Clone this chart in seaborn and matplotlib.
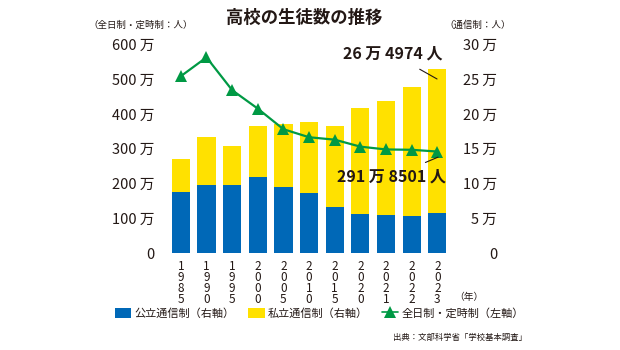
import numpy as np
import pandas as pd
import matplotlib.pyplot as plt
import seaborn as sns
from matplotlib.patches import Patch
from matplotlib.lines import Line2D

# 値は図から読み取り（単位：万人）
years = ["1985", "1990", "1995", "2000", "2005", "2010", "2015", "2020", "2021", "2022", "2023"]
public_tsushin = [8.8, 9.8, 9.8, 10.9, 9.5, 8.6, 6.6, 5.6, 5.5, 5.3, 5.8]
private_tsushin = [4.7, 6.9, 5.6, 7.3, 9.0, 10.2, 11.6, 15.2, 16.4, 18.5, 20.7]
zennichi_teiji = [508, 562, 468, 415, 356, 333, 326, 306, 298, 297, 292]
left_ticks = ["0", "100 万", "200 万", "300 万", "400 万", "500 万", "600 万"]
right_ticks = ["0", "5 万", "10 万", "15 万", "20 万", "25 万", "30 万"]

BLUE = "#0068b7"
YELLOW = "#ffe100"
GREEN = "#009944"
INK = "#231815"

sns.set_theme(style="white")
plt.rcParams["font.family"] = ["Noto Sans CJK JP", "DejaVu Sans"]
plt.rcParams["text.color"] = INK

df = pd.DataFrame({
    "年": years,
    "公立": public_tsushin,
    "私立": private_tsushin,
})
df["合計"] = df["公立"] + df["私立"]

fig = plt.figure(figsize=(6.2, 3.5), dpi=100)
ax = fig.add_axes([0.271, 0.276, 0.455, 0.598])
ax2 = ax.twinx()  # 折れ線は棒の上に描く

# 積み上げ棒（通信制・右軸）
sns.barplot(data=df, x="年", y="合計", color=YELLOW, width=0.71,
            saturation=1, ax=ax, linewidth=0)
sns.barplot(data=df, x="年", y="公立", color=BLUE, width=0.71,
            saturation=1, ax=ax, linewidth=0)
ax.set_ylim(0, 30)
ax.set_xlim(-0.5, len(years) - 0.5)
ax.yaxis.tick_right()
ax.set_yticks(np.arange(0, 31, 5))
ax.set_yticklabels(right_ticks, fontsize=10.5, color=INK)
for lab in ax.get_yticklabels():
    lab.set_horizontalalignment("right")
ax.tick_params(axis="y", length=0, pad=34)
ax.set_xticks(range(len(years)))
ax.set_xticklabels(["\n".join(y) for y in years], fontsize=8.5,
                   linespacing=0.78, color=INK, va="top")
ax.tick_params(axis="x", length=0, pad=5)
ax.set_xlabel("")
ax.set_ylabel("")
sns.despine(ax=ax, left=True, bottom=True)

# 折れ線（全日制・定時制・左軸）
sns.lineplot(x=np.arange(len(years)), y=zennichi_teiji, ax=ax2, color=GREEN,
             linewidth=1.6, marker="^", markersize=9, markeredgewidth=0)
ax2.set_ylim(0, 600)
ax2.set_xlim(-0.5, len(years) - 0.5)
ax2.yaxis.tick_left()
ax2.set_yticks(np.arange(0, 601, 100))
ax2.set_yticklabels(left_ticks, fontsize=10.5, color=INK)
ax2.tick_params(axis="y", length=0, pad=10)
ax2.set_ylabel("")
sns.despine(ax=ax2, left=True, right=True, bottom=True, top=True)

ax2.annotate("26 万 4974 人", xy=(9.99, 500), xytext=(8.25, 572),
             ha="center", va="center", fontsize=11.5, fontweight="bold",
             arrowprops=dict(arrowstyle="-", color=INK, lw=0.8,
                             shrinkA=6, shrinkB=0))
ax2.annotate("291 万 8501 人", xy=(10.03, 276), xytext=(8.2, 219),
             ha="center", va="center", fontsize=11.5, fontweight="bold",
             arrowprops=dict(arrowstyle="-", color=INK, lw=0.8,
                             shrinkA=6, shrinkB=0))

fig.text(0.49, 0.948, "高校の生徒数の推移", ha="center", va="center",
         fontsize=12.5, fontweight="bold")
fig.text(0.227, 0.928, "（全日制・定時制：人）", ha="center", va="center", fontsize=6.8)
fig.text(0.771, 0.928, "（通信制：人）", ha="center", va="center", fontsize=6.8)
fig.text(0.733, 0.152, "（年）", ha="left", va="center", fontsize=7)

handles = [
    Patch(facecolor=BLUE, edgecolor="none"),
    Patch(facecolor=YELLOW, edgecolor="none"),
    Line2D([0], [0], color=GREEN, lw=1.2, marker="^", markersize=9, markeredgewidth=0),
]
labels = ["公立通信制（右軸）", "私立通信制（右軸）", "全日制・定時制（左軸）"]
fig.legend(handles, labels, loc="center", bbox_to_anchor=(0.515, 0.105), ncol=3,
           frameon=False, fontsize=8, handlelength=1.5, handleheight=1.0,
           handletextpad=0.3, columnspacing=1.2)

fig.text(0.85, 0.037, "出典：文部科学省「学校基本調査」", ha="right", va="center", fontsize=6)

fig.savefig("out.png", dpi=100)
